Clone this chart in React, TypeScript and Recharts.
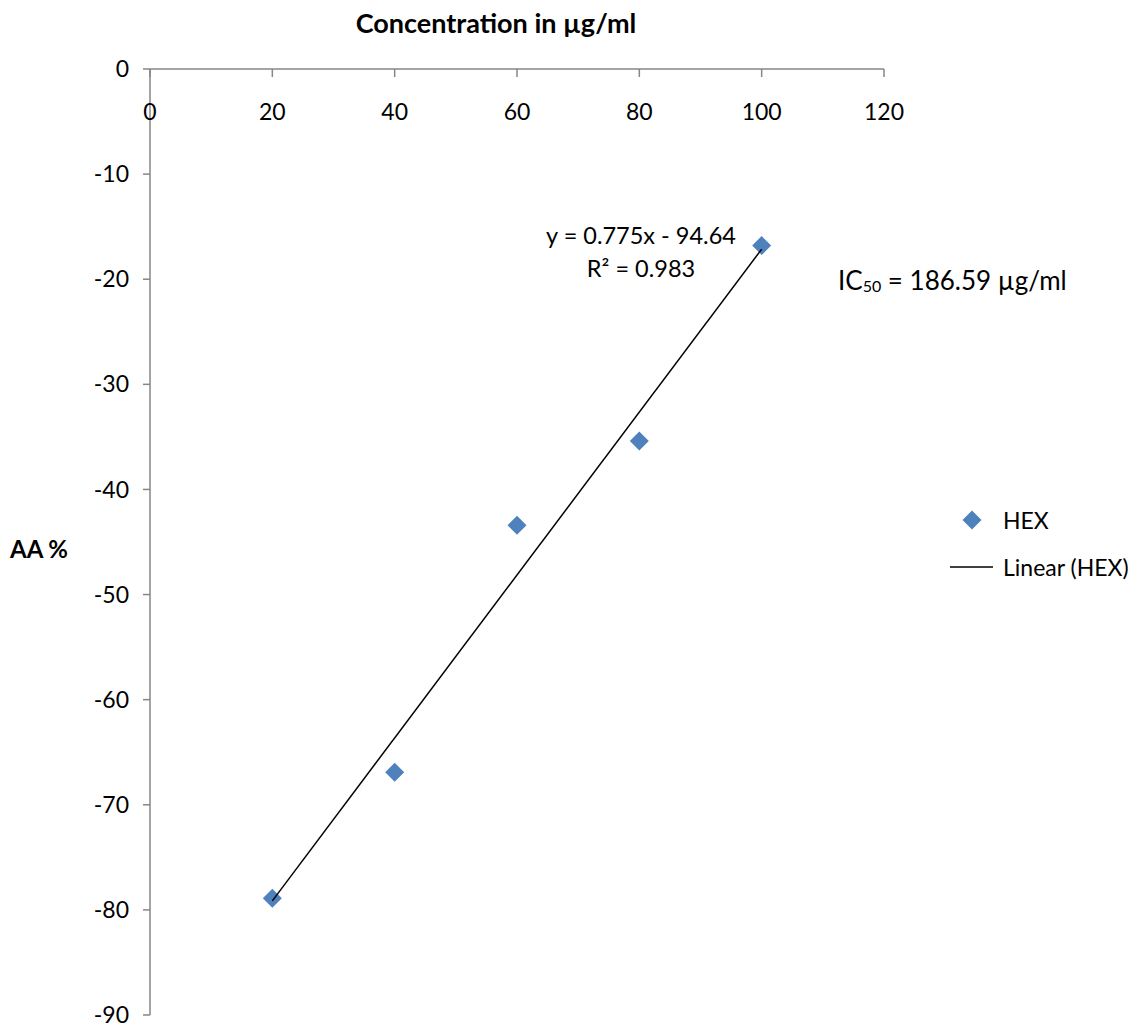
import React from "react";
import { ScatterChart, Scatter, XAxis, YAxis } from "recharts";

const concentrations = [20, 40, 60, 80, 100];
const aaPercent = [-78.9, -66.9, -43.4, -35.4, -16.8];

// regression line from the equation printed on the chart
const trendX = [20, 100];
const trendY = [-79.14, -17.14];

const xTicks = [0, 20, 40, 60, 80, 100, 120];
const yTicks = [0, -10, -20, -30, -40, -50, -60, -70, -80, -90];

const points = concentrations.map((x, i) => ({ x, y: aaPercent[i] }));
const trend = trendX.map((x, i) => ({ x, y: trendY[i] }));

const FONT = "Lato, 'Liberation Sans', sans-serif";
const AXIS = "#868686";
const BLUE = "#4f81bd";

const Diamond = (props: any) => {
  const { cx, cy } = props;
  if (cx == null || cy == null) return null;
  const r = 9.5;
  return (
    <polygon
      points={`${cx},${cy - r} ${cx + r},${cy} ${cx},${cy + r} ${cx - r},${cy}`}
      fill={BLUE}
    />
  );
};

const XTick = (props: any) => {
  const { x, y, payload } = props;
  return (
    <g>
      <line x1={x} y1={y} x2={x} y2={y + 8} stroke={AXIS} strokeWidth={1.5} />
      <text
        x={x}
        y={y + 42}
        textAnchor="middle"
        dominantBaseline="central"
        fontSize={23}
        fontFamily={FONT}
        fill="#000"
      >
        {payload.value}
      </text>
    </g>
  );
};

export default function App() {
  return (
    <div
      style={{
        position: "absolute",
        left: 0,
        top: 0,
        width: 1140,
        height: 1029,
        background: "#fff",
        fontFamily: FONT,
      }}
    >
      <ScatterChart
        width={1140}
        height={1029}
        margin={{ top: 68, right: 256, bottom: 14, left: 0 }}
      >
        <XAxis
          type="number"
          dataKey="x"
          orientation="top"
          domain={[0, 120]}
          ticks={xTicks}
          height={1}
          tickSize={0}
          tickMargin={0}
          tickLine={false}
          axisLine={{ stroke: AXIS, strokeWidth: 1.5 }}
          tick={<XTick />}
          interval={0}
        />
        <YAxis
          type="number"
          dataKey="y"
          domain={[-90, 0]}
          ticks={yTicks}
          width={150}
          tickSize={7}
          tickMargin={14}
          interval={0}
          axisLine={{ stroke: AXIS, strokeWidth: 1.5 }}
          tickLine={{ stroke: AXIS, strokeWidth: 1.5 }}
          tick={{ fontSize: 23, fill: "#000", fontFamily: FONT }}
        />
        <Scatter
          name="HEX"
          data={points}
          shape={<Diamond />}
          isAnimationActive={false}
        />
        <Scatter
          name="Linear (HEX)"
          data={trend}
          line={{ stroke: "#000", strokeWidth: 1.5 }}
          shape={() => <g />}
          isAnimationActive={false}
        />
      </ScatterChart>
      <svg
        width={1140}
        height={1029}
        style={{ position: "absolute", left: 0, top: 0, pointerEvents: "none" }}
      >
        <text
          x={496}
          y={22}
          textAnchor="middle"
          dominantBaseline="central"
          fontSize={27}
          fontWeight="bold"
          fontFamily={FONT}
        >
          Concentration in µg/ml
        </text>
        <text
          x={10}
          y={548}
          dominantBaseline="central"
          fontSize={24}
          fontWeight="bold"
          fontFamily={FONT}
        >
          AA %
        </text>
        <text x={641} y={235} textAnchor="middle" dominantBaseline="central" fontSize={23.5} fontFamily={FONT}>
          y = 0.775x - 94.64
        </text>
        <text x={641} y={268} textAnchor="middle" dominantBaseline="central" fontSize={23.5} fontFamily={FONT}>
          R² = 0.983
        </text>
        <text x={838} y={280} dominantBaseline="central" fontSize={26} fontFamily={FONT}>
          IC
          <tspan fontSize={16} dy={5}>50</tspan>
          <tspan dy={-5}> = 186.59 µg/ml</tspan>
        </text>
        {/* legend */}
        <polygon points="972,510.5 981.5,520 972,529.5 962.5,520" fill={BLUE} />
        <text x={1003} y={520} dominantBaseline="central" fontSize={23} fontFamily={FONT}>
          HEX
        </text>
        <line x1={950} y1={567} x2={993} y2={567} stroke="#000" strokeWidth={1.5} />
        <text x={1003} y={567} dominantBaseline="central" fontSize={23} fontFamily={FONT}>
          Linear (HEX)
        </text>
      </svg>
    </div>
  );
}
